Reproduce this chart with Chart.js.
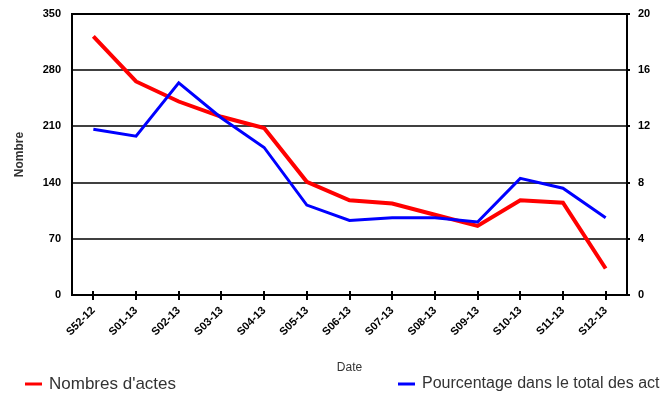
<!DOCTYPE html>
<html>
<head>
<meta charset="utf-8">
<script src="https://cdn.jsdelivr.net/npm/chart.js@4/dist/chart.umd.min.js"></script>
<style>
    body { margin: 0; background: #fff; overflow: hidden; }
    #wrap { width: 660px; height: 403px; }
</style>
</head>
<body>
<div id="wrap"><canvas id="chart"></canvas></div>
<script>
let semaines = ["S52-12", "S01-13", "S02-13", "S03-13", "S04-13", "S05-13", "S06-13",
                "S07-13", "S08-13", "S09-13", "S10-13", "S11-13", "S12-13"];
let nombres = [322, 266, 241, 222, 208, 141, 118, 114, 100, 86, 118, 115, 33];
let pourcentage = [11.8, 11.3, 15.1, 12.6, 10.5, 6.4, 5.3, 5.5, 5.5, 5.2, 8.3, 7.6, 5.5];

Chart.defaults.font.family = "'Liberation Sans', Arial, sans-serif";
Chart.defaults.color = "#000";

// tick marks crossing the x axis + bottom legend
const extras = {
    id: "extras",
    afterDraw(chart) {
        const ctx = chart.ctx;
        const x = chart.scales.x;
        const bottom = chart.chartArea.bottom;
        ctx.save();
        ctx.strokeStyle = "#000";
        ctx.lineWidth = 2;
        x.ticks.forEach((t, i) => {
            let px = Math.round(x.getPixelForTick(i));
            ctx.beginPath();
            ctx.moveTo(px, bottom - 4);
            ctx.lineTo(px, bottom + 5);
            ctx.stroke();
        });

        let items = [
            { x: 25, size: 17, color: "#ff0000", text: chart.data.datasets[0].label },
            { x: 398, size: 16, color: "#0000ff", text: chart.data.datasets[1].label }
        ];
        ctx.textBaseline = "middle";
        ctx.fillStyle = "#333";
        items.forEach(it => {
            ctx.strokeStyle = it.color;
            ctx.lineWidth = 3;
            ctx.beginPath();
            ctx.moveTo(it.x, 384);
            ctx.lineTo(it.x + 17, 384);
            ctx.stroke();
            ctx.font = it.size + "px 'Liberation Sans', Arial, sans-serif";
            ctx.fillText(it.text, it.x + 24, 384);
        });
        ctx.restore();
    }
};

function noPad(scale) {
    scale.paddingTop = 0;
    scale.paddingBottom = 0;
}

new Chart(document.getElementById("chart"), {
    type: "line",
    data: {
        labels: semaines,
        datasets: [{
            label: "Nombres d'actes",
            data: nombres,
            yAxisID: "y",
            borderColor: "#ff0000",
            borderWidth: 4,
            pointRadius: 0,
            tension: 0,
            order: 1
        }, {
            label: "Pourcentage dans le total des actes",
            data: pourcentage,
            yAxisID: "y1",
            borderColor: "#0000ff",
            borderWidth: 3,
            pointRadius: 0,
            tension: 0,
            order: 0
        }]
    },
    options: {
        responsive: true,
        maintainAspectRatio: false,
        animation: false,
        layout: { padding: { top: 14, left: 0, right: 0, bottom: 0 } },
        plugins: {
            legend: { display: false },
            tooltip: { enabled: false }
        },
        scales: {
            x: {
                offset: true,
                grid: { display: false },
                border: { display: true, color: "#000", width: 2 },
                ticks: {
                    minRotation: 45,
                    maxRotation: 45,
                    padding: 1,
                    font: { size: 11, weight: "bold" }
                },
                title: {
                    display: true,
                    text: "Date",
                    color: "#333",
                    font: { size: 12 },
                    padding: { top: 0, bottom: 28 }
                },
                afterFit(scale) { scale.height = 108; }
            },
            y: {
                position: "left",
                min: 0,
                max: 350,
                ticks: { stepSize: 70, padding: 11, font: { size: 11, weight: "bold" } },
                grid: {
                    drawTicks: false,
                    lineWidth: 2,
                    color: c => c.tick.value === 350 ? "#000" : "#404040"
                },
                border: { display: true, color: "#000", width: 2 },
                title: {
                    display: true,
                    text: "Nombre",
                    color: "#333",
                    font: { size: 12, weight: "bold" },
                    padding: { top: 12, bottom: 0 }
                },
                afterFit(scale) { scale.width = 72; noPad(scale); }
            },
            y1: {
                position: "right",
                min: 0,
                max: 20,
                ticks: { stepSize: 4, padding: 8, font: { size: 11, weight: "bold" } },
                grid: { drawOnChartArea: false, tickLength: 3, color: "#000", lineWidth: 2 },
                border: { display: true, color: "#000", width: 2 },
                afterFit(scale) { scale.width = 33; noPad(scale); }
            }
        }
    },
    plugins: [extras]
});
</script>
</body>
</html>
